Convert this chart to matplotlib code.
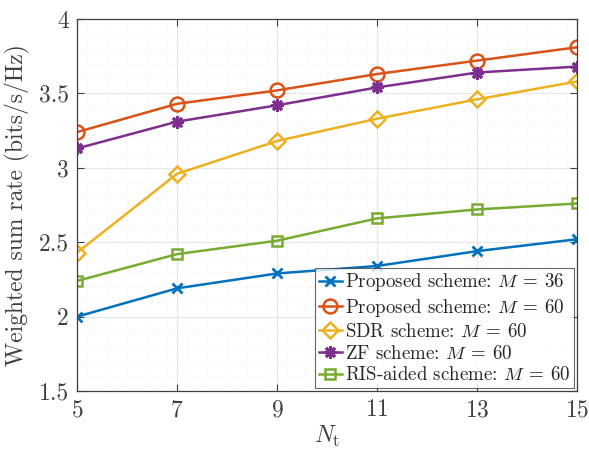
import matplotlib
matplotlib.use("Agg")
import matplotlib.pyplot as plt
from matplotlib.ticker import MultipleLocator

plt.rcParams['font.family'] = 'serif'
plt.rcParams['font.serif'] = ['cmr10']
plt.rcParams['mathtext.fontset'] = 'cm'
plt.rcParams['axes.formatter.use_mathtext'] = True

nt = [5, 7, 9, 11, 13, 15]
prop36 = [2.00, 2.19, 2.29, 2.34, 2.44, 2.52]
prop60 = [3.24, 3.43, 3.52, 3.63, 3.72, 3.81]
sdr60 = [2.43, 2.96, 3.18, 3.33, 3.46, 3.58]
zf60 = [3.13, 3.31, 3.42, 3.54, 3.64, 3.68]
ris60 = [2.24, 2.42, 2.51, 2.66, 2.72, 2.76]

labels = [r'Proposed scheme: $M\:=\:36$', r'Proposed scheme: $M\:=\:60$',
          r'SDR scheme: $M\:=\:60$', r'ZF scheme: $M\:=\:60$',
          r'RIS-aided scheme: $M\:=\:60$']

txt = '#404040'
fig = plt.figure(figsize=(5.89, 4.51), dpi=100)
ax = fig.add_axes([0.131, 0.133, 0.849, 0.825])

lw = 1.8
ax.plot(nt, prop36, color='#0072BD', marker='x', ms=7, mew=2, lw=lw, label=labels[0])
ax.plot(nt, prop60, color='#D95319', marker='o', ms=10, mfc='none', mew=1.8, lw=lw, label=labels[1])
ax.plot(nt, sdr60, color='#EDB120', marker='D', ms=8, mfc='none', mew=1.8, lw=lw, label=labels[2])
ax.plot(nt, zf60, color='#7E2F8E', marker=(8, 2, 0), ms=9, mew=2, lw=lw, label=labels[3])
ax.plot(nt, ris60, color='#77AC30', marker='s', ms=7.5, mfc='none', mew=1.8, lw=lw, label=labels[4])

ax.set_xlim(5, 15)
ax.set_ylim(1.5, 4)
ax.set_xticks(nt)
ax.set_yticks([1.5, 2, 2.5, 3, 3.5, 4])
ax.set_yticklabels(['1.5', '2', '2.5', '3', '3.5', '4'])
ax.xaxis.set_minor_locator(MultipleLocator(0.4))
ax.yaxis.set_minor_locator(MultipleLocator(0.1))
ax.grid(which='major', color='#e6e6e6', lw=0.8)
ax.grid(which='minor', color='#eeeeee', lw=0.6, ls=':')
ax.set_axisbelow(True)
ax.tick_params(which='major', direction='in', top=True, right=True, length=5,
               labelsize=17, colors=txt, pad=6)
ax.tick_params(which='minor', length=0)
for s in ax.spines.values():
    s.set_color(txt)
    s.set_linewidth(0.9)

ax.set_xlabel(r'$N_{\mathrm{t}}$', fontsize=17, color=txt, labelpad=2)
ax.set_ylabel('Weighted sum rate (bits/s/Hz)', fontsize=17, color=txt, labelpad=6)

leg = ax.legend(loc='lower right', fontsize=13.6, frameon=True, fancybox=False,
                edgecolor=txt, borderpad=0.2, labelspacing=0.2,
                handlelength=1.2, handletextpad=0.2, borderaxespad=0.15)
leg.get_frame().set_linewidth(0.8)
for t in leg.get_texts():
    t.set_color('#262626')

fig.savefig('out.png', dpi=100)
